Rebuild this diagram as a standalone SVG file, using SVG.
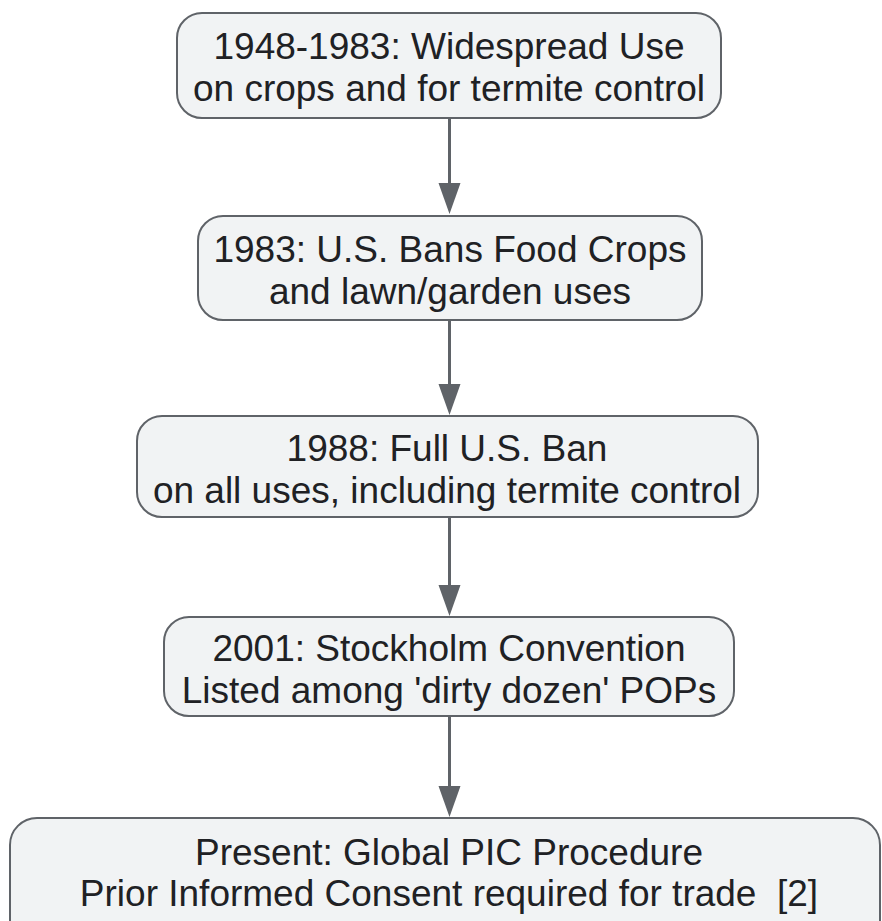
<svg xmlns="http://www.w3.org/2000/svg" width="882" height="921" viewBox="0 0 882 921">
<style>
.n rect{fill:#f1f3f4;stroke:#5f6368;stroke-width:2}
.n text{font-family:"Liberation Sans",Arial,sans-serif;font-size:37px;fill:#202124;text-anchor:middle}
.c path.l{stroke:#5f6368;stroke-width:3;fill:none}
.c path.h{fill:#5f6368}
</style>
<g id="connectors" class="c">
<path class="l" d="M449.5,119 V186"/>
<path class="h" d="M438.5,183 L460.5,183 L449.5,214 Z"/>
<path class="l" d="M449.5,320 V386"/>
<path class="h" d="M438.5,384 L460.5,384 L449.5,415 Z"/>
<path class="l" d="M449.5,517 V588"/>
<path class="h" d="M438.5,585 L460.5,585 L449.5,616 Z"/>
<path class="l" d="M449.5,716 V789"/>
<path class="h" d="M438.5,786 L460.5,786 L449.5,817 Z"/>
</g>
<g id="n1" class="n">
<rect x="177" y="13" width="544" height="105" rx="25"/>
<text x="449" y="59">1948-1983: Widespread Use</text>
<text x="449" y="101">on crops and for termite control</text>
</g>
<g id="n2" class="n">
<rect x="198" y="216" width="504" height="104" rx="25"/>
<text x="450" y="262">1983: U.S. Bans Food Crops</text>
<text x="450" y="304">and lawn/garden uses</text>
</g>
<g id="n3" class="n">
<rect x="137" y="416" width="621" height="101" rx="25"/>
<text x="447" y="461">1988: Full U.S. Ban</text>
<text x="447" y="503">on all uses, including termite control</text>
</g>
<g id="n4" class="n">
<rect x="164" y="617" width="570" height="99" rx="25"/>
<text x="449" y="661">2001: Stockholm Convention</text>
<text x="449" y="703">Listed among 'dirty dozen' POPs</text>
</g>
<g id="n5" class="n">
<rect x="10" y="818" width="870" height="130" rx="27"/>
<text x="449" y="865">Present: Global PIC Procedure</text>
<text x="449" y="906" xml:space="preserve">Prior Informed Consent required for trade  [2]</text>
</g>
</svg>
